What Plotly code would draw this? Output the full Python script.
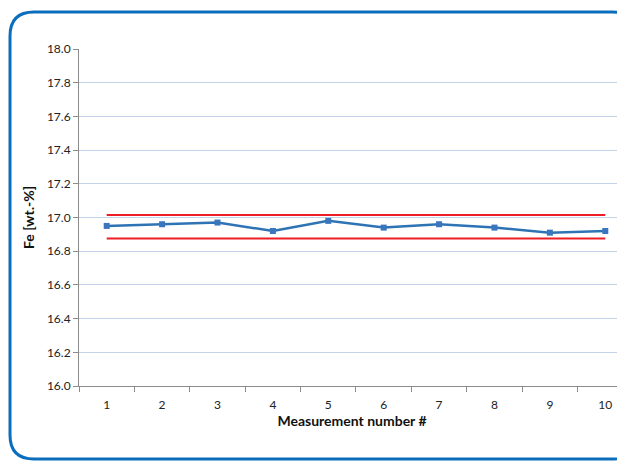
import plotly.graph_objects as go

measurement = [1, 2, 3, 4, 5, 6, 7, 8, 9, 10]
fe_values = [16.95, 16.96, 16.97, 16.92, 16.98, 16.94, 16.96, 16.94, 16.91, 16.92]
upper_limit = 17.015
lower_limit = 16.875
y_ticks = [16.0, 16.2, 16.4, 16.6, 16.8, 17.0, 17.2, 17.4, 17.6, 17.8, 18.0]

OFF = 8  # page body margin
W, H = 625 - OFF, 461 - OFF
L, R, T, B = 79 - OFF, 0, 49 - OFF, 75
pw, ph = W - L - R, H - T - B

def px(x):
    return (x - OFF - L) / pw

def py(y):
    return (H - B - (y - OFF)) / ph

fig = go.Figure()
fig.add_trace(go.Scatter(x=[measurement[0], measurement[-1]], y=[upper_limit, upper_limit],
                         mode="lines", line=dict(color="#EE1C25", width=2), hoverinfo="skip"))
fig.add_trace(go.Scatter(x=[measurement[0], measurement[-1]], y=[lower_limit, lower_limit],
                         mode="lines", line=dict(color="#EE1C25", width=2), hoverinfo="skip"))
fig.add_trace(go.Scatter(x=measurement, y=fe_values, mode="lines+markers",
                         line=dict(color="#2E74B5", width=2.5),
                         marker=dict(symbol="square", size=6, color="#3A76BD")))

# rounded frame (page pixel coordinates)
x0, x1, y0, y1, r = 10, 636, 12, 459, 24
path = (f"M {px(x0+r)},{py(y0)} L {px(x1-r)},{py(y0)} Q {px(x1)},{py(y0)} {px(x1)},{py(y0+r)} "
        f"L {px(x1)},{py(y1-r)} Q {px(x1)},{py(y1)} {px(x1-r)},{py(y1)} "
        f"L {px(x0+r)},{py(y1)} Q {px(x0)},{py(y1)} {px(x0)},{py(y1-r)} "
        f"L {px(x0)},{py(y0+r)} Q {px(x0)},{py(y0)} {px(x0+r)},{py(y0)} Z")
fig.add_shape(type="path", path=path, xref="paper", yref="paper",
              line=dict(color="#0A6EBD", width=3), layer="above")

fig.update_layout(
    width=W, height=H,
    margin=dict(l=L, r=R, t=T, b=B),
    paper_bgcolor="white", plot_bgcolor="white",
    showlegend=False,
    font=dict(family="Lato, Open Sans, sans-serif", size=12, color="#222222"),
    xaxis=dict(
        range=[0.5, 10.356],
        tickvals=measurement, ticktext=[str(m) for m in measurement],
        ticks="", showgrid=False, zeroline=False, ticklabelstandoff=8,
        showline=True, linecolor="#8C8C8C", linewidth=1,
        minor=dict(tick0=0.5, dtick=1, ticks="outside", ticklen=5, tickcolor="#8C8C8C", showgrid=False),
        title=dict(text="<b>Measurement number #</b>", font=dict(size=14, color="#111111"), standoff=4),
    ),
    yaxis=dict(
        range=[16.0, 18.0],
        tickvals=y_ticks, ticktext=[f"{v:.1f}" for v in y_ticks],
        ticks="outside", ticklen=5, tickcolor="#8C8C8C",
        showgrid=True, gridcolor="#C2D3E8", gridwidth=1, zeroline=False,
        showline=True, linecolor="#8C8C8C", linewidth=1,
        title=dict(text="<b>Fe [wt.-%]</b>", font=dict(size=14, color="#111111"), standoff=8),
    ),
)

fig.write_html("out.html")
